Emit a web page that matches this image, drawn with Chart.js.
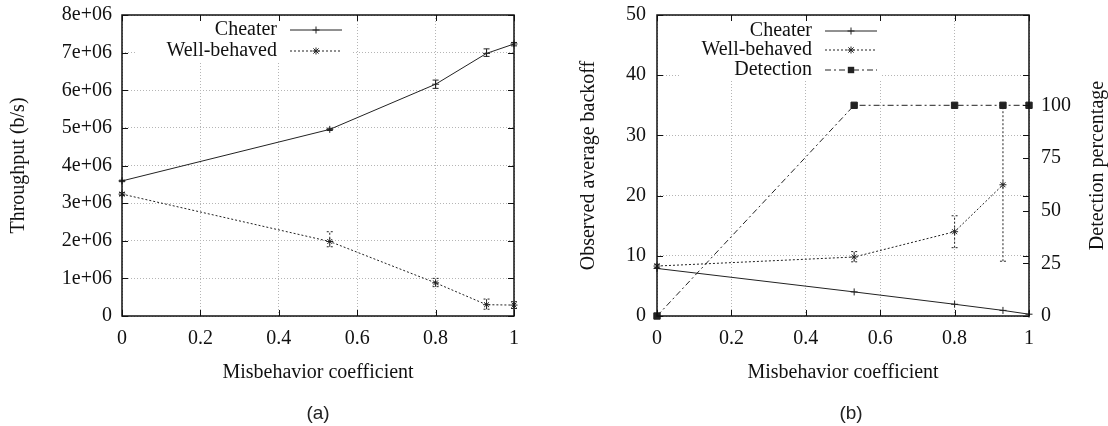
<!DOCTYPE html>
<html><head><meta charset="utf-8">
<script src="https://cdn.jsdelivr.net/npm/chart.js@4.4.0/dist/chart.umd.min.js"></script>
<style>
html,body{margin:0;padding:0;background:#fff;}
#wrap{position:relative;width:1108px;height:426px;overflow:hidden;background:#fff;}
.box{position:absolute;top:0;height:426px;}
#a{left:0;width:550px;}
#b{left:550px;width:558px;}
.cap{position:absolute;top:402px;font:19px "Liberation Sans",Arial,sans-serif;color:#222;transform:translateX(-50%);line-height:22px;}
</style></head><body>
<div id="wrap">
<div class="box" id="a"><canvas id="ca"></canvas></div>
<div class="box" id="b"><canvas id="cb"></canvas></div>
<div class="cap" style="left:318px">(a)</div>
<div class="cap" style="left:851px">(b)</div>
</div>
<script>
// ---- data ----
const misbehavior = [0, 0.53, 0.8, 0.93, 1];
const xTicks = [0, 0.2, 0.4, 0.6, 0.8, 1];

// (a) throughput
const throughputTicks = [0, 1e6, 2e6, 3e6, 4e6, 5e6, 6e6, 7e6, 8e6];
const throughputCheater     = [3.59e6, 4.96e6, 6.16e6, 6.98e6, 7.23e6];
const throughputCheaterLow  = [3.57e6, 4.93e6, 6.05e6, 6.90e6, 7.18e6];
const throughputCheaterHigh = [3.61e6, 4.99e6, 6.27e6, 7.10e6, 7.27e6];
const throughputWell        = [3.24e6, 1.98e6, 0.88e6, 0.30e6, 0.29e6];
const throughputWellLow     = [3.20e6, 1.84e6, 0.78e6, 0.18e6, 0.20e6];
const throughputWellHigh    = [3.28e6, 2.24e6, 1.00e6, 0.45e6, 0.38e6];

// (b) backoff + detection
const backoffTicks = [0, 10, 20, 30, 40, 50];
const detectionTicks = [0, 25, 50, 75, 100];
const backoffCheater   = [7.9, 4.0, 1.95, 0.93, 0.3];
const backoffWell      = [8.3, 9.8, 14.0, 21.8, null];
const backoffWellLow   = [8.0, 9.0, 11.35, 9.1, null];
const backoffWellHigh  = [8.6, 10.7, 16.65, 35.0, null];
const detectionPercent = [0, 100, 100, 100, 100];

const seriesNames = ['Cheater', 'Well-behaved', 'Detection'];

// ---- helpers ----
const INK = '#222';
const SERIF = '"Liberation Serif","Times New Roman",serif';
const FS = 20;
const pts = (ys) => misbehavior.map((x, i) => ({x, y: ys[i]})).filter(p => p.y !== null);

function mark(ctx, style, x, y, r) {
  ctx.save();
  ctx.setLineDash([]);
  ctx.strokeStyle = INK; ctx.fillStyle = INK; ctx.lineWidth = 1;
  ctx.beginPath();
  if (style === 'cross' || style === 'star') {
    ctx.moveTo(x - r, y); ctx.lineTo(x + r, y);
    ctx.moveTo(x, y - r); ctx.lineTo(x, y + r);
    if (style === 'star') {
      const d = r * 0.75;
      ctx.moveTo(x - d, y - d); ctx.lineTo(x + d, y + d);
      ctx.moveTo(x - d, y + d); ctx.lineTo(x + d, y - d);
    }
    ctx.stroke();
  } else {
    ctx.fillRect(x - r, y - r, 2 * r, 2 * r);
  }
  ctx.restore();
}

const gnuKey = {
  id: 'gnuKey',
  beforeDatasetsDraw(chart, args, o) {
    const ctx = chart.ctx;
    ctx.save();
    ctx.fillStyle = '#fff';
    ctx.fillRect(o.box[0], o.box[1], o.box[2] - o.box[0], o.box[3] - o.box[1]);
    ctx.font = FS + 'px ' + SERIF;
    ctx.textAlign = 'right'; ctx.textBaseline = 'middle';
    chart.data.datasets.forEach((ds, i) => {
      const y = o.rows[i];
      ctx.fillStyle = '#111';
      ctx.fillText(ds.label, o.textRight, y);
      ctx.strokeStyle = INK; ctx.lineWidth = 1;
      ctx.setLineDash(ds.borderDash || []);
      ctx.beginPath(); ctx.moveTo(o.sample[0], y); ctx.lineTo(o.sample[1], y); ctx.stroke();
      mark(ctx, ds.keyMark, (o.sample[0] + o.sample[1]) / 2, y, ds.keyR);
    });
    ctx.restore();
  }
};

const errBars = {
  id: 'errBars',
  afterDatasetsDraw(chart) {
    const ctx = chart.ctx;
    ctx.save();
    chart.data.datasets.forEach((ds) => {
      if (!ds.errLow) return;
      const xs = chart.scales.x, ys = chart.scales[ds.yAxisID || 'y'];
      ctx.strokeStyle = INK; ctx.lineWidth = 1;
      ctx.setLineDash(ds.borderDash || []);
      misbehavior.forEach((xv, k) => {
        const lo = ds.errLow[k], hi = ds.errHigh[k];
        if (lo === null || hi === null) return;
        const px = xs.getPixelForValue(xv);
        const p1 = ys.getPixelForValue(lo), p2 = ys.getPixelForValue(hi);
        ctx.beginPath();
        ctx.moveTo(px, p1); ctx.lineTo(px, p2);
        ctx.moveTo(px - 3, p1); ctx.lineTo(px + 3, p1);
        ctx.moveTo(px - 3, p2); ctx.lineTo(px + 3, p2);
        ctx.stroke();
      });
    });
    ctx.restore();
  }
};

const frame = {
  id: 'frame',
  afterDatasetsDraw(chart, args, o) {
    const {ctx, chartArea: a, scales} = chart;
    ctx.save();
    ctx.setLineDash([]);
    ctx.strokeStyle = '#111'; ctx.lineWidth = 1.5;
    ctx.strokeRect(a.left, a.top, a.right - a.left, a.bottom - a.top);
    ctx.lineWidth = 1;
    const L = 6;
    ctx.beginPath();
    scales.x.ticks.forEach(t => {
      const px = Math.round(scales.x.getPixelForValue(t.value)) + 0.5;
      ctx.moveTo(px, a.bottom); ctx.lineTo(px, a.bottom - L);
      ctx.moveTo(px, a.top); ctx.lineTo(px, a.top + L);
    });
    scales.y.ticks.forEach(t => {
      const py = Math.round(scales.y.getPixelForValue(t.value)) + 0.5;
      ctx.moveTo(a.left, py); ctx.lineTo(a.left + L, py);
      ctx.moveTo(a.right, py); ctx.lineTo(a.right - L, py);
    });
    if (scales.y2) {
      scales.y2.ticks.forEach(t => {
        const py = Math.round(scales.y2.getPixelForValue(t.value)) + 0.5;
        ctx.moveTo(a.right, py); ctx.lineTo(a.right - L, py);
      });
    }
    ctx.stroke();
    if (o && o.rightTitle) {
      ctx.translate(o.rightTitleX, (a.top + a.bottom) / 2);
      ctx.rotate(-Math.PI / 2);
      ctx.font = FS + 'px ' + SERIF;
      ctx.fillStyle = '#111';
      ctx.textAlign = 'center'; ctx.textBaseline = 'middle';
      ctx.fillText(o.rightTitle, 0, 0);
    }
    ctx.restore();
  }
};

const tickFont = {family: SERIF, size: FS};
const titleFont = {family: SERIF, size: FS, lineHeight: 1};
const gridOpts = {color: '#b5b5b5', lineWidth: 1, drawTicks: false};
const noPadV = s => { s.paddingTop = 0; s.paddingBottom = 0; };

function xScale() {
  return {
    type: 'linear', min: 0, max: 1,
    afterBuildTicks: s => { s.ticks = xTicks.map(v => ({value: v})); },
    afterFit: s => { s.height = 74; s.paddingLeft = 0; s.paddingRight = 0; },
    grid: gridOpts,
    border: {display: false, dash: [1, 2]},
    ticks: {padding: 11, color: '#111', font: tickFont, maxRotation: 0, autoSkip: false, callback: v => String(v)},
    title: {display: true, text: 'Misbehavior coefficient', color: '#111', font: titleFont, padding: {top: 0, bottom: 7}}
  };
}

function lineDs(label, ys, dash, style, r, extra) {
  return Object.assign({
    label, data: pts(ys), borderColor: INK, backgroundColor: INK, borderWidth: 1,
    borderDash: dash, pointStyle: style, pointRadius: r, pointBorderWidth: 1,
    pointBackgroundColor: INK, pointBorderColor: INK, tension: 0, fill: false, clip: false,
    keyMark: style === 'rect' ? 'square' : style, keyR: style === 'rect' ? 3.2 : r
  }, extra || {});
}

// ---- chart (a) ----
new Chart(document.getElementById('ca'), {
  type: 'line',
  data: {datasets: [
    lineDs(seriesNames[0], throughputCheater, [], 'cross', 3.5, {errLow: throughputCheaterLow, errHigh: throughputCheaterHigh}),
    lineDs(seriesNames[1], throughputWell, [2, 2], 'star', 3.5, {errLow: throughputWellLow, errHigh: throughputWellHigh})
  ]},
  options: {
    responsive: true, maintainAspectRatio: false, animation: false,
    layout: {padding: {left: 0, right: 36, top: 15, bottom: 36}},
    plugins: {legend: {display: false}, tooltip: {enabled: false},
      gnuKey: {box: [135, 16, 352, 62], rows: [30, 51], textRight: 277, sample: [290, 342]}},
    scales: {
      x: xScale(),
      y: {
        min: 0, max: 8e6,
        afterBuildTicks: s => { s.ticks = throughputTicks.map(v => ({value: v})); },
        afterFit: s => { s.width = 122; noPadV(s); },
        grid: gridOpts, border: {display: false, dash: [1, 2]},
        ticks: {padding: 10, color: '#111', font: tickFont, callback: v => v === 0 ? '0' : (v / 1e6) + 'e+06'},
        title: {display: true, text: 'Throughput (b/s)', color: '#111', font: titleFont, padding: {top: 9, bottom: 0}}
      }
    }
  },
  plugins: [gnuKey, errBars, frame]
});

// ---- chart (b) ----
new Chart(document.getElementById('cb'), {
  type: 'line',
  data: {datasets: [
    lineDs(seriesNames[0], backoffCheater, [], 'cross', 3.5),
    lineDs(seriesNames[1], backoffWell, [2, 2], 'star', 3.5, {errLow: backoffWellLow, errHigh: backoffWellHigh}),
    lineDs(seriesNames[2], detectionPercent, [6, 3, 2, 3], 'rect', 4.5, {yAxisID: 'y2'})
  ]},
  options: {
    responsive: true, maintainAspectRatio: false, animation: false,
    layout: {padding: {left: 0, right: 0, top: 15, bottom: 36}},
    plugins: {legend: {display: false}, tooltip: {enabled: false},
      gnuKey: {box: [130, 16, 332, 81], rows: [31, 50, 70], textRight: 262, sample: [275, 327]},
      frame: {rightTitle: 'Detection percentage', rightTitleX: 548}},
    scales: {
      x: xScale(),
      y: {
        position: 'left', min: 0, max: 50,
        afterBuildTicks: s => { s.ticks = backoffTicks.map(v => ({value: v})); },
        afterFit: s => { s.width = 107; noPadV(s); },
        grid: gridOpts, border: {display: false, dash: [1, 2]},
        ticks: {padding: 11, color: '#111', font: tickFont},
        title: {display: true, text: 'Observed average backoff', color: '#111', font: titleFont, padding: {top: 29, bottom: 0}}
      },
      y2: {
        position: 'right', min: 0, max: 100 * 50 / 35,
        afterBuildTicks: s => { s.ticks = detectionTicks.map(v => ({value: v})); },
        afterFit: s => { s.width = 79; noPadV(s); },
        grid: {display: false, drawTicks: false}, border: {display: false},
        ticks: {padding: 12, color: '#111', font: tickFont},
        title: {display: false}
      }
    }
  },
  plugins: [gnuKey, errBars, frame]
});
</script>
</body></html>
